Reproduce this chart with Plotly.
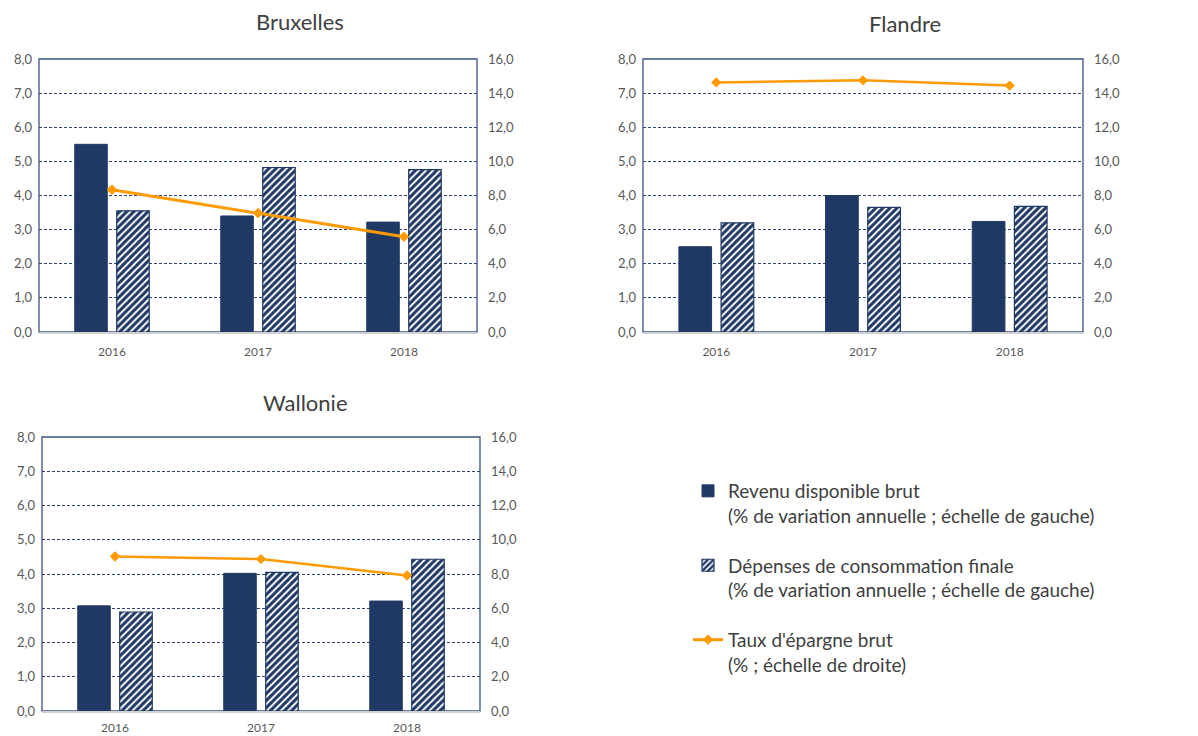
import plotly.graph_objects as go

years = ["2016", "2017", "2018"]
regions = ["Bruxelles", "Flandre", "Wallonie"]

revenu = {
    "Bruxelles": [5.5, 3.4, 3.22],
    "Flandre": [2.5, 4.0, 3.24],
    "Wallonie": [3.07, 4.02, 3.21],
}
depenses = {
    "Bruxelles": [3.55, 4.82, 4.76],
    "Flandre": [3.2, 3.65, 3.68],
    "Wallonie": [2.89, 4.05, 4.43],
}
epargne = {
    "Bruxelles": [8.34, 6.97, 5.58],
    "Flandre": [14.63, 14.75, 14.44],
    "Wallonie": [9.02, 8.87, 7.91],
}

name_rev = "Revenu disponible brut<br>(% de variation annuelle ; échelle de gauche)"
name_dep = "Dépenses de consommation finale<br>(% de variation annuelle ; échelle de gauche)"
name_ep = "Taux d'épargne brut<br>(% ; échelle de droite)"

NAVY = "#203864"
ORANGE = "#FF9A00"
GRID = "#2E4370"
TXT = "#595959"
FONT = "Lato, 'Open Sans', sans-serif"

# The page body has an 8px margin: figure is drawn at page offset (8, 8)
OFF = 8
W, H = 1190, 728


def px(x):
    return (x - OFF) / W


def py(y):
    return (H - (y - OFF)) / H


# page-pixel boxes (x0, x1, ytop, ybottom)
boxes = {
    "Bruxelles": (39, 477, 59, 332),
    "Flandre": (643, 1083, 59, 332),
    "Wallonie": (42, 480, 437, 711),
}
title_pos = {"Bruxelles": (300, 21), "Flandre": (905, 23), "Wallonie": (305, 402)}
line_w = {"Bruxelles": 3, "Flandre": 2.5, "Wallonie": 2.5}
year_standoff = {"Bruxelles": 8, "Flandre": 8, "Wallonie": 5}

fig = go.Figure()
layout = {}
shapes = []
annotations = []

for i, reg in enumerate(regions):
    n = i + 1
    xa = "x" if n == 1 else f"x{n}"
    ya = "y" if 2 * n - 1 == 1 else f"y{2*n-1}"
    ya2 = f"y{2*n}"
    showleg = (i == 0)
    fig.add_trace(go.Bar(
        x=years, y=revenu[reg], name=name_rev, legendgroup="rev", showlegend=showleg,
        marker=dict(color=NAVY, line=dict(color=NAVY, width=1)),
        xaxis=xa, yaxis=ya))
    fig.add_trace(go.Bar(
        x=years, y=depenses[reg], name=name_dep, legendgroup="dep", showlegend=showleg,
        marker=dict(color="white", line=dict(color=NAVY, width=1.2),
                    pattern=dict(shape="/", fgcolor=NAVY, bgcolor="white", size=5,
                                 solidity=0.6, fgopacity=1)),
        xaxis=xa, yaxis=ya))
    fig.add_trace(go.Scatter(
        x=years, y=epargne[reg], name=name_ep, legendgroup="ep", showlegend=showleg,
        mode="lines+markers", line=dict(color=ORANGE, width=line_w[reg]),
        marker=dict(symbol="diamond", size=8, color=ORANGE),
        xaxis=xa, yaxis=ya2))

    x0, x1, yt, yb = boxes[reg]
    xdom = [px(x0), px(x1)]
    ydom = [py(yb), py(yt)]
    xkey = "xaxis" if n == 1 else f"xaxis{n}"
    ykey = "yaxis" if 2 * n - 1 == 1 else f"yaxis{2*n-1}"
    y2key = f"yaxis{2*n}"
    layout[xkey] = dict(domain=xdom, anchor=ya, showgrid=False, showline=True,
                        linecolor="#D0D0D0", linewidth=1.5, ticks="", automargin=False,
                        tickfont=dict(size=12, color=TXT, family=FONT),
                        ticklabelstandoff=year_standoff[reg], fixedrange=True)
    layout[ykey] = dict(domain=ydom, anchor=xa, range=[0, 8], dtick=1, tickformat=".1f",
                        showgrid=True, gridcolor=GRID, gridwidth=1, griddash="3px,2px",
                        zeroline=False, showline=False, ticks="", automargin=False,
                        tickfont=dict(size=13, color=TXT, family=FONT),
                        ticklabelstandoff=6, fixedrange=True)
    layout[y2key] = dict(overlaying=ya, anchor=xa, side="right", range=[0, 16], dtick=2,
                         tickformat=".1f", showgrid=False, zeroline=False, showline=False,
                         ticks="", automargin=False,
                         tickfont=dict(size=13, color=TXT, family=FONT),
                         ticklabelstandoff=10, fixedrange=True)
    shapes.append(dict(type="rect", xref=f"{xa} domain", yref=f"{ya} domain",
                       x0=0, x1=1, y0=0, y1=1, line=dict(color="#3B5282", width=1.3),
                       layer="below"))
    tx, ty = title_pos[reg]
    annotations.append(dict(text=reg, x=px(tx), y=py(ty), xref="paper", yref="paper",
                            showarrow=False, xanchor="center", yanchor="middle",
                            font=dict(size=22, color="#404040", family=FONT)))

fig.update_layout(
    width=W, height=H,
    margin=dict(l=0, r=0, t=0, b=0, autoexpand=False),
    paper_bgcolor="white", plot_bgcolor="white",
    separators=", ",
    barmode="group", bargap=0.425, bargroupgap=0.225,
    shapes=shapes, annotations=annotations,
    legend=dict(x=px(688), y=py(472), xanchor="left", yanchor="top",
                traceorder="grouped", tracegroupgap=22, valign="top",
                font=dict(size=19, color="#404040", family=FONT),
                itemwidth=30, bgcolor="rgba(0,0,0,0)"),
    font=dict(family=FONT, color=TXT),
    **layout,
)

fig.write_html("out.html")
